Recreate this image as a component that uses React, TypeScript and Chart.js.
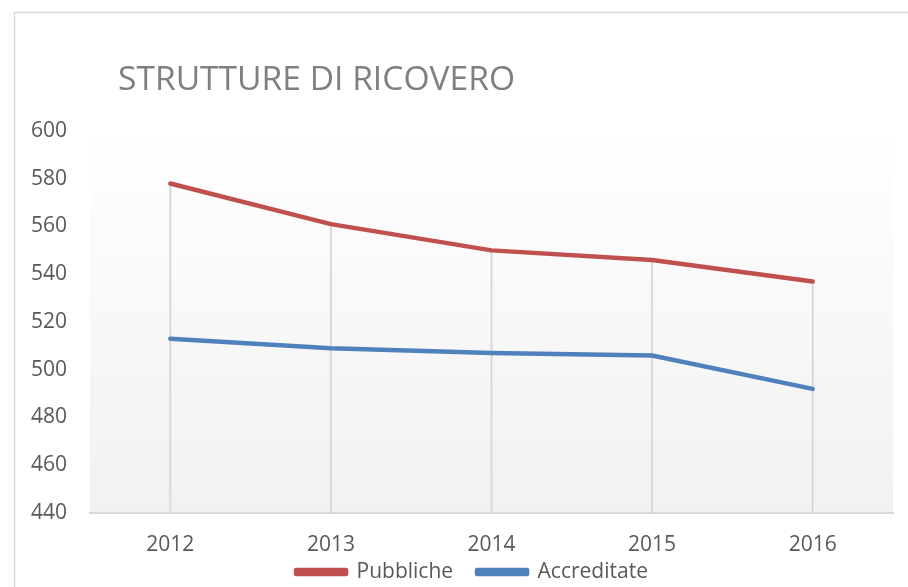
import React, { useEffect, useRef } from "react";
import { Chart, registerables } from "chart.js";

Chart.register(...registerables);

const TITLE = "STRUTTURE DI RICOVERO";
const YEARS = ["2012", "2013", "2014", "2015", "2016"];
const PUBBLICHE = [578, 561, 550, 546, 537];
const ACCREDITATE = [513, 509, 507, 506, 492];
const SERIES_NAMES = ["Pubbliche", "Accreditate"];
const Y_MIN = 440;
const Y_MAX = 600;
const Y_STEP = 20;

const RED = "#c0504d";
const BLUE = "#4f81bd";
const FONT = "'Open Sans', 'Noto Sans', sans-serif";

const backgroundPlugin = {
  id: "bgFrame",
  beforeDraw(chart: any) {
    const { ctx, chartArea, width, height } = chart;
    ctx.save();
    ctx.fillStyle = "#ffffff";
    ctx.fillRect(0, 0, width, height);
    // outer frame
    ctx.strokeStyle = "#d9d9d9";
    ctx.lineWidth = 1.5;
    ctx.beginPath();
    ctx.moveTo(14.5, height + 5);
    ctx.lineTo(14.5, 12.5);
    ctx.lineTo(width + 5, 12.5);
    ctx.stroke();
    // plot area gradient
    const g = ctx.createLinearGradient(0, chartArea.top, 0, chartArea.bottom);
    g.addColorStop(0, "#ffffff");
    g.addColorStop(0.13, "#fdfdfd");
    g.addColorStop(1, "#f1f1f1");
    ctx.fillStyle = g;
    ctx.fillRect(chartArea.left, chartArea.top, chartArea.right - chartArea.left, chartArea.bottom - chartArea.top);
    // title
    ctx.fillStyle = "#7f7f7f";
    ctx.font = `33.6px ${FONT}`;
    ctx.textBaseline = "alphabetic";
    ctx.textAlign = "left";
    ctx.fillText(TITLE, 118, 90);
    ctx.restore();
  },
};

const legendShiftPlugin = {
  id: "legendShift",
  afterLayout(chart: any) {
    const lg = chart.legend;
    if (!lg) return;
    const dx = 25.5;
    const dy = -15.5;
    lg.left += dx;
    lg.right += dx;
    lg.top += dy;
    lg.bottom += dy;
  },
};

const dropLinesPlugin = {
  id: "dropLines",
  beforeDatasetsDraw(chart: any) {
    const { ctx, chartArea, scales } = chart;
    const xs = scales.x;
    const ys = scales.y;
    ctx.save();
    ctx.strokeStyle = "#d9d9d9";
    ctx.lineWidth = 2;
    YEARS.forEach((_, i) => {
      const top = Math.max(PUBBLICHE[i], ACCREDITATE[i]);
      const x = xs.getPixelForValue(i);
      const y = ys.getPixelForValue(top);
      ctx.beginPath();
      ctx.moveTo(x, y);
      ctx.lineTo(x, chartArea.bottom);
      ctx.stroke();
    });
    ctx.restore();
  },
};

export default function App() {
  const ref = useRef<HTMLCanvasElement | null>(null);

  useEffect(() => {
    if (!ref.current) return;
    const chart = new Chart(ref.current, {
      type: "line",
      data: {
        labels: YEARS,
        datasets: [
          {
            label: SERIES_NAMES[0],
            data: PUBBLICHE,
            borderColor: RED,
            backgroundColor: RED,
            borderWidth: 4.5,
            borderCapStyle: "round",
            borderJoinStyle: "round",
            pointRadius: 0,
            tension: 0,
          },
          {
            label: SERIES_NAMES[1],
            data: ACCREDITATE,
            borderColor: BLUE,
            backgroundColor: BLUE,
            borderWidth: 4.5,
            borderCapStyle: "round",
            borderJoinStyle: "round",
            pointRadius: 0,
            tension: 0,
          },
        ],
      },
      options: {
        animation: false,
        responsive: true,
        maintainAspectRatio: false,
        layout: { padding: { top: 131, left: 0, right: 15, bottom: -21 } },
        plugins: {
          title: { display: false },
          tooltip: { enabled: false },
          legend: {
            position: "bottom",
            labels: {
              boxWidth: 50,
              boxHeight: 4,
              padding: 24,
              color: "#595959",
              font: { family: FONT, size: 21 },
            },
          },
        },
        scales: {
          x: {
            offset: true,
            grid: { display: false, drawTicks: false, offset: true },
            border: { display: true, color: "#d9d9d9", width: 2 },
            ticks: {
              color: "#595959",
              padding: 19,
              font: { family: FONT, size: 21 },
              maxRotation: 0,
            },
            afterFit(scale: any) {
              scale.height = 40;
            },
          },
          y: {
            min: Y_MIN,
            max: Y_MAX,
            grid: { display: false, drawTicks: false },
            border: { display: false },
            ticks: {
              stepSize: Y_STEP,
              color: "#595959",
              padding: 23,
              font: { family: FONT, size: 21 },
            },
            afterFit(scale: any) {
              scale.width = 90;
            },
          },
        },
      },
      plugins: [backgroundPlugin, dropLinesPlugin, legendShiftPlugin],
    });
    return () => chart.destroy();
  }, []);

  return (
    <div style={{ position: "fixed", left: 0, top: 0, width: 908, height: 587, background: "#fff" }}>
      <canvas ref={ref} />
    </div>
  );
}
